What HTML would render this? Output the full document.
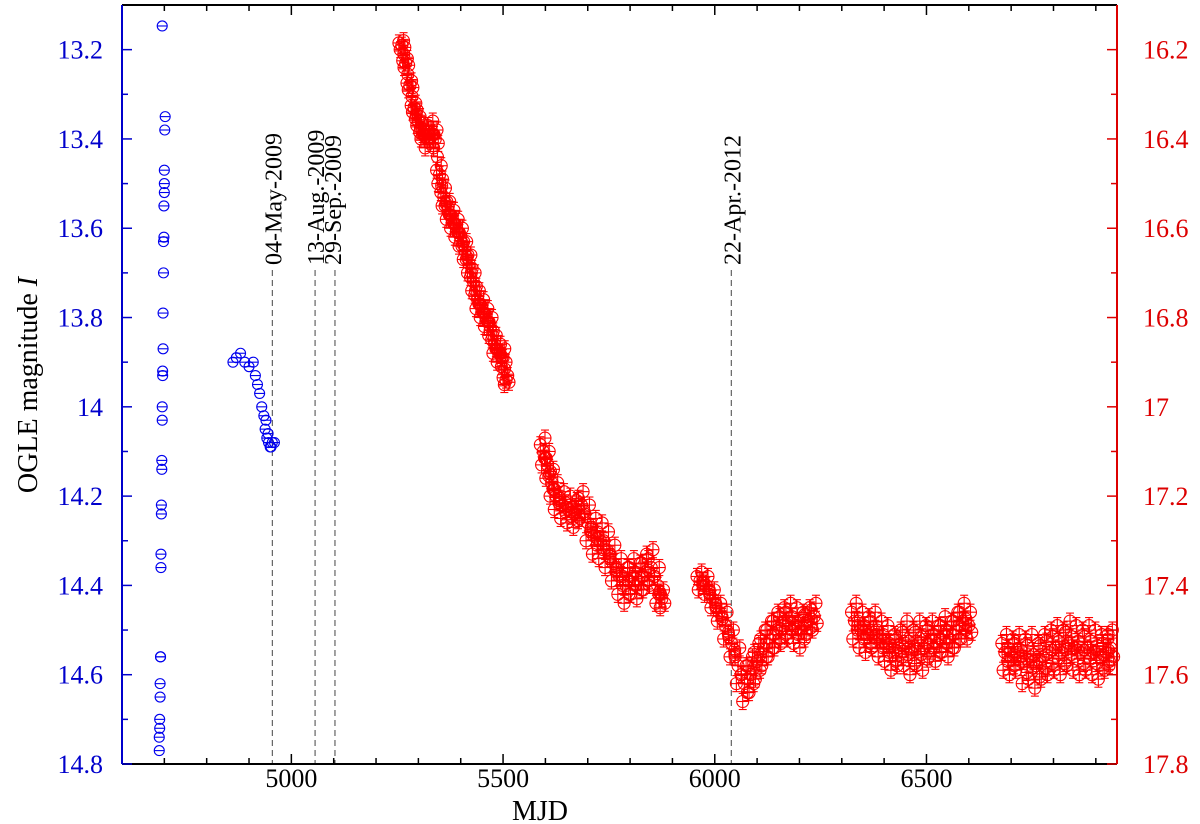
<!DOCTYPE html>
<html><head><meta charset="utf-8"><style>
body{margin:0;background:#fff}
svg{display:block;font-family:"Liberation Serif",serif}
text{font-family:"Liberation Serif",serif}
</style></head><body>
<svg id="chart" width="1200" height="824" xmlns="http://www.w3.org/2000/svg" font-family="Liberation Serif, serif"></svg>
<script>
// ---- data ----
const blueMJD = [4688,4688,4689,4689,4690,4690,4691,4691,4692,4692,4693,4693,4694,4694,4695,4695,4696,4696,4697,4697,4698,4698,4699,4699,4700,4700,4700,4701,4702,
 4862,4870,4880,4890,4900,4910,4915,4920,4925,4930,4935,4938,4942,4946,4950,4955,4960,4940,4945,4952];
const blueMag = [14.77,14.74,14.72,14.70,14.65,14.62,14.56,14.56,14.36,14.33,14.24,14.22,14.14,14.12,14.03,14.00,13.93,13.92,13.87,13.79,13.70,13.63,13.62,13.55,13.52,13.50,13.47,13.38,13.35,
 13.90,13.89,13.88,13.90,13.91,13.90,13.93,13.95,13.97,14.00,14.02,14.05,14.07,14.08,14.09,14.08,14.08,14.03,14.06,14.09];
const blueTop = [13.147];
const redMJD = [5261,5270,5280,5290,5300,5310,5320,5330,5340,5350,5360,5370,5380,5390,5400,5410,5420,5430,5440,5450,5460,5470,5480,5490,5500,5507,
 5595,5605,5615,5625,5640,5655,5670,5685,5700,5715,5730,5745,5760,5775,5790,5805,5820,5835,5850,5865,5875,
 5965,5980,5995,6010,6025,6040,6055,6070,6085,6100,6115,6130,6145,6160,6175,6190,6205,6220,6235,
 6330,6345,6360,6375,6390,6405,6420,6435,6450,6465,6480,6495,6510,6525,6540,6555,6570,6585,6600,
 6685,6700,6715,6730,6745,6760,6775,6790,6805,6820,6835,6850,6865,6880,6895,6910,6925,6935];
const redMag = [16.19,16.23,16.28,16.33,16.36,16.39,16.40,16.38,16.40,16.48,16.53,16.56,16.58,16.60,16.62,16.65,16.68,16.72,16.76,16.78,16.80,16.82,16.86,16.88,16.89,16.94,
 17.10,17.13,17.17,17.20,17.22,17.23,17.24,17.22,17.26,17.29,17.30,17.32,17.35,17.38,17.40,17.38,17.39,17.37,17.36,17.40,17.43,
 17.39,17.40,17.43,17.46,17.49,17.53,17.58,17.62,17.60,17.57,17.54,17.52,17.50,17.49,17.48,17.49,17.50,17.48,17.47,
 17.48,17.50,17.51,17.50,17.52,17.53,17.55,17.54,17.53,17.55,17.53,17.54,17.52,17.53,17.51,17.52,17.50,17.48,17.49,
 17.55,17.56,17.55,17.57,17.56,17.58,17.56,17.55,17.54,17.55,17.53,17.54,17.55,17.54,17.55,17.56,17.55,17.54];
const redSpread = [0.01,0.01,0.01,0.01,0.01,0.01,0.02,0.02,0.02,0.02,0.02,0.02,0.02,0.02,0.02,0.02,0.02,0.02,0.02,0.02,0.02,0.02,0.02,0.02,0.02,0.01,
 0.03,0.03,0.03,0.03,0.03,0.03,0.03,0.03,0.04,0.04,0.04,0.04,0.04,0.04,0.04,0.04,0.04,0.04,0.04,0.04,0.02,
 0.02,0.02,0.02,0.02,0.03,0.03,0.04,0.04,0.04,0.04,0.04,0.04,0.04,0.04,0.04,0.04,0.04,0.03,0.03,
 0.04,0.04,0.04,0.04,0.04,0.04,0.04,0.04,0.05,0.05,0.05,0.05,0.04,0.04,0.04,0.04,0.04,0.04,0.03,
 0.04,0.04,0.04,0.05,0.05,0.05,0.05,0.05,0.05,0.05,0.05,0.05,0.05,0.05,0.05,0.05,0.04,0.04];
const redErr = 0.018;
const xTicks = [5000,5500,6000,6500];
const leftTicks = [13.2,13.4,13.6,13.8,14,14.2,14.4,14.6,14.8];
const rightTicks = [16.2,16.4,16.6,16.8,17,17.2,17.4,17.6,17.8];
const eventMJD = [4955,5056,5103,6039];
const eventLabels = ["04-May-2009","13-Aug.-2009","29-Sep.-2009","22-Apr.-2012"];

// ---- axes ----
const L=122,R=1117,T=5,B=764;
const xMin=4600,xMax=6950,yMin=13.1,yMax=14.8;
const X=v=>L+(v-xMin)/(xMax-xMin)*(R-L);
const YL=v=>T+(v-yMin)/(yMax-yMin)*(B-T);
const YR=v=>YL(v-3);
const svg=document.getElementById('chart');
const NS='http://www.w3.org/2000/svg';
const FF='Liberation Serif, serif';
function mk(tag,attrs,parent){const e=document.createElementNS(NS,tag);for(const k in attrs)e.setAttribute(k,attrs[k]);if(tag==='text')e.setAttribute('font-family',FF);(parent||svg).appendChild(e);return e;}

// event lines
const evG=mk('g',{});


eventMJD.forEach((m,i)=>{
  const x=X(m);
  const ln=mk('line',{x1:x,x2:x,y1:270,y2:B,stroke:'#444','stroke-width':1,'stroke-dasharray':'6,4'},evG);
  
  
  const tx=i===1?x+1:(i===2?x-2:x+1);
  const t=mk('text',{x:0,y:0,transform:`translate(${tx+8},265) rotate(-90)`,'font-size':24,fill:'#000'},evG);
  t.textContent=eventLabels[i];
  
  
});

// red series
const rG=mk('g',{fill:'none',stroke:'#ff0000','stroke-width':1.1});


function redPt(m,v){
  const x=X(m),y=YR(v);
  mk('line',{x1:x,x2:x,y1:YR(v-redErr),y2:YR(v+redErr)},rG);
  mk('line',{x1:x-4,x2:x+4,y1:YR(v-redErr),y2:YR(v-redErr)},rG);
  mk('line',{x1:x-4,x2:x+4,y1:YR(v+redErr),y2:YR(v+redErr)},rG);
  mk('line',{x1:x-6,x2:x+6,y1:y,y2:y},rG);
  const c=mk('circle',{cx:x,cy:y,r:6},rG);
  
  
}
redMJD.forEach((m,i)=>{
  const v=redMag[i],s=redSpread[i];
  redPt(m,v);
  redPt(m+4,v-s);redPt(m-4,v+s);
  redPt(m+7,v+s*0.5);redPt(m-7,v-s*0.5);
  if(i+1<redMJD.length && redMJD[i+1]-m<20){
    redPt((m+redMJD[i+1])/2,(v+redMag[i+1])/2);
  }
});

// blue series
const bG=mk('g',{fill:'none',stroke:'#0000ee','stroke-width':1.1});


blueMJD.concat([4695]).forEach((m,i)=>{
  const v=i<blueMag.length?blueMag[i]:blueTop[0];
  const x=X(m),y=YL(v);
  mk('line',{x1:x-5,x2:x+5,y1:y,y2:y},bG);
  const c=mk('circle',{cx:x,cy:y,r:5},bG);
  
  
});

// frame
mk('line',{x1:L,x2:R,y1:T,y2:T,stroke:'#000','stroke-width':2});
const xa=mk('line',{x1:L,x2:R,y1:B,y2:B,stroke:'#000','stroke-width':2});


const la=mk('line',{x1:L,x2:L,y1:T,y2:B,stroke:'#0000cc','stroke-width':2});


const ra=mk('line',{x1:R,x2:R,y1:T,y2:B,stroke:'#dd0000','stroke-width':2});



// x ticks
for(let m=4700;m<=6900;m+=100){
  const major=m%500===0,len=major?10:6,x=X(m);
  mk('line',{x1:x,x2:x,y1:B,y2:B-len,stroke:'#000','stroke-width':1.5});
  mk('line',{x1:x,x2:x,y1:T,y2:T+len,stroke:'#000','stroke-width':1.5});
}
xTicks.forEach(m=>{
  const t=mk('text',{x:X(m),y:787,'font-size':26,'text-anchor':'middle',fill:'#000'});
  t.textContent=m;
  
  
});
// y ticks
for(let k=0;k<=16;k++){
  const v=13.2+k*0.1,major=k%2===0,len=major?10:6;
  const y=YL(v);
  mk('line',{x1:L,x2:L+len,y1:y,y2:y,stroke:'#0000cc','stroke-width':1.5});
  mk('line',{x1:R,x2:R-len,y1:y,y2:y,stroke:'#dd0000','stroke-width':1.5});
}
leftTicks.forEach(v=>{
  const t=mk('text',{x:103,y:YL(v)+9,'font-size':26,'text-anchor':'end',fill:'#0000cc'});
  t.textContent=(v===14?'14':v.toFixed(1));
  
  
});
rightTicks.forEach(v=>{
  const t=mk('text',{x:1143,y:YR(v)+9,'font-size':26,'text-anchor':'start',fill:'#dd0000'});
  t.textContent=(v===17?'17':v.toFixed(1));
  
  
});
// axis titles
const xt=mk('text',{x:540,y:820,'font-size':28,'text-anchor':'middle',fill:'#000'});
xt.textContent='MJD';


const yt=mk('text',{x:0,y:0,transform:'translate(37,385) rotate(-90)','font-size':28,'text-anchor':'middle',fill:'#000'});


yt.textContent='OGLE magnitude ';
const it=mk('tspan',{'font-style':'italic'},yt);it.textContent='I';
</script>
</body></html>
